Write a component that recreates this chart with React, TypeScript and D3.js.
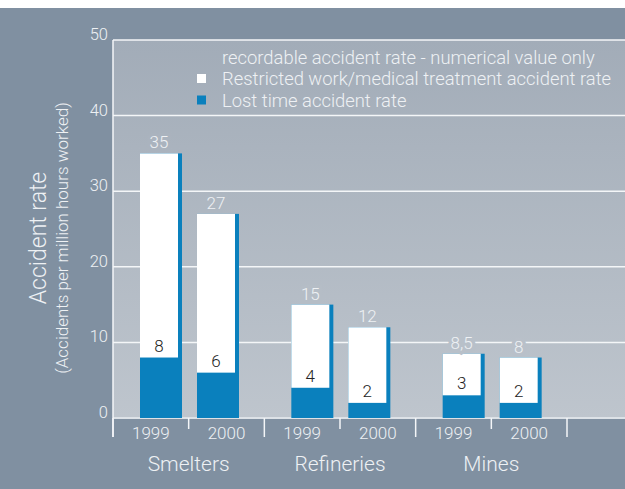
import * as d3 from "d3";
import { useEffect, useRef } from "react";

// chart data
const groups = ["Smelters", "Refineries", "Mines"];
const years = ["1999", "2000"];
const totalRate = [
  [35, 27],
  [15, 12],
  [8.5, 8],
];
const totalLabels = [
  ["35", "27"],
  ["15", "12"],
  ["8,5", "8"],
];
const lostTime = [
  [8, 6],
  [4, 2],
  [3, 2],
];
const yTicks = [0, 10, 20, 30, 40, 50];
const legendItems = [
  { label: "recordable accident rate - numerical value only", swatch: null },
  { label: "Restricted work/medical treatment accident rate", swatch: "#ffffff" },
  { label: "Lost time accident rate", swatch: "#0a80bd" },
];

const width = 625;
const height = 489;
const plotLeft = 113;
const plotTop = 40;
const plotBottom = 418;
const axisEnd = 567;
const blue = "#0a80bd";
const font = "Roboto, 'Liberation Sans', sans-serif";
const weight = 300;
const light = "#eef1f4";
const bgTop = "#a2acb8";
const bgBottom = "#bec5cd";

const App = () => {
  const ref = useRef<SVGSVGElement>(null);

  useEffect(() => {
    const svg = d3.select(ref.current);
    svg.selectAll("*").remove();

    const y = d3.scaleLinear().domain([0, 50]).range([plotBottom, plotTop]);
    const xGroup = d3.scaleBand().domain(groups).range([plotLeft, axisEnd]);
    const xHalf = d3.scaleBand().domain(years).range([0, xGroup.bandwidth()]);
    const xBar = d3
      .scaleBand()
      .domain(years)
      .range([27, 126])
      .paddingInner(0.263);
    // background colour at a given pixel height (for label knockouts)
    const bgAt = d3
      .scaleLinear<string>()
      .domain([plotTop, plotBottom])
      .range([bgTop, bgBottom])
      .interpolate(d3.interpolateRgb);

    const txt = (sel: any, size: number, fill = light) =>
      sel
        .attr("font-family", font)
        .attr("font-weight", weight)
        .attr("font-size", size)
        .attr("fill", fill);

    const defs = svg.append("defs");
    const grad = defs
      .append("linearGradient")
      .attr("id", "plotbg")
      .attr("x1", 0)
      .attr("y1", 0)
      .attr("x2", 0)
      .attr("y2", 1);
    grad.append("stop").attr("offset", "0%").attr("stop-color", bgTop);
    grad.append("stop").attr("offset", "100%").attr("stop-color", bgBottom);

    // background
    svg.append("rect").attr("width", width).attr("height", height).attr("fill", "#fff");
    svg.append("rect").attr("y", 8).attr("width", width).attr("height", height - 8).attr("fill", "#8090a1");
    svg
      .append("rect")
      .attr("x", plotLeft)
      .attr("y", plotTop)
      .attr("width", width - plotLeft)
      .attr("height", plotBottom - plotTop)
      .attr("fill", "url(#plotbg)");

    // grid + y labels
    svg
      .append("g")
      .selectAll("line")
      .data(yTicks)
      .join("line")
      .attr("x1", plotLeft)
      .attr("x2", width)
      .attr("y1", (d) => y(d))
      .attr("y2", (d) => y(d))
      .attr("stroke", (d) => (d === 0 ? "#dde2e7" : "#f4f6f8"))
      .attr("stroke-width", (d) => (d === 0 ? 2 : 1.5));

    txt(
      svg
        .append("g")
        .selectAll("text")
        .data(yTicks)
        .join("text")
        .attr("x", 108)
        .attr("y", (d) => y(d))
        .attr("text-anchor", "end"),
      16.5
    ).text((d) => d);

    // left axis line
    svg
      .append("line")
      .attr("x1", plotLeft)
      .attr("x2", plotLeft)
      .attr("y1", plotTop)
      .attr("y2", 437)
      .attr("stroke", "#f4f6f8")
      .attr("stroke-width", 1.5);

    // x ticks
    const majors = groups.map((g) => xGroup(g)!).concat([axisEnd]);
    svg
      .append("g")
      .selectAll("line")
      .data(majors)
      .join("line")
      .attr("x1", (d) => d)
      .attr("x2", (d) => d)
      .attr("y1", plotBottom)
      .attr("y2", 437)
      .attr("stroke", "#f4f6f8")
      .attr("stroke-width", 1.5);
    svg
      .append("g")
      .selectAll("line")
      .data(groups)
      .join("line")
      .attr("x1", (g) => xGroup(g)! + xHalf("2000")!)
      .attr("x2", (g) => xGroup(g)! + xHalf("2000")!)
      .attr("y1", plotBottom)
      .attr("y2", 429)
      .attr("stroke", "#f4f6f8")
      .attr("stroke-width", 1.5);

    // year + group labels
    groups.forEach((g) => {
      years.forEach((yr) => {
        txt(
          svg
            .append("text")
            .attr("x", xGroup(g)! + xHalf(yr)! + xHalf.bandwidth() / 2)
            .attr("y", 438.5)
            .attr("text-anchor", "middle"),
          17
        ).text(yr);
      });
      txt(
        svg
          .append("text")
          .attr("x", xGroup(g)! + xGroup.bandwidth() / 2)
          .attr("y", 471)
          .attr("text-anchor", "middle"),
        21
      ).text(g);
    });

    // bars
    const bars = svg.append("g");
    groups.forEach((g, gi) => {
      years.forEach((yr, yi) => {
        const x0 = xGroup(g)! + xBar(yr)!;
        const bw = xBar.bandwidth();
        const tot = totalRate[gi][yi];
        const lost = lostTime[gi][yi];
        bars
          .append("rect")
          .attr("x", x0)
          .attr("y", y(tot))
          .attr("width", bw)
          .attr("height", y(0) - y(tot))
          .attr("fill", blue);
        bars
          .append("rect")
          .attr("x", x0)
          .attr("y", y(tot))
          .attr("width", bw - 4)
          .attr("height", y(lost) - y(tot))
          .attr("fill", "#fff");
        txt(
          bars
            .append("text")
            .attr("x", x0 + (bw - 4) / 2)
            .attr("y", y(tot) - 5)
            .attr("text-anchor", "middle")
            .attr("stroke", bgAt(y(tot) - 11))
            .attr("stroke-width", 7)
            .attr("paint-order", "stroke"),
          17
        ).text(totalLabels[gi][yi]);
        txt(
          bars
            .append("text")
            .attr("x", x0 + (bw - 4) / 2)
            .attr("y", y(lost) - 6)
            .attr("text-anchor", "middle"),
          17,
          "#222"
        ).text(lost);
      });
    });

    // y titles
    txt(
      svg
        .append("text")
        .attr("transform", "translate(46,238) rotate(-90)")
        .attr("text-anchor", "middle"),
      23
    ).text("Accident rate");
    txt(
      svg
        .append("text")
        .attr("transform", "translate(68,238) rotate(-90)")
        .attr("text-anchor", "middle"),
      17
    ).text("(Accidents per million hours worked)");

    // legend
    const lg = svg.append("g");
    legendItems.forEach((item, i) => {
      const cy = 57 + i * 21.5;
      if (item.swatch) {
        lg.append("rect")
          .attr("x", 197)
          .attr("y", cy - 4.5)
          .attr("width", 9)
          .attr("height", 9)
          .attr("fill", item.swatch);
      }
      txt(lg.append("text").attr("x", 222).attr("y", cy + 6.5), 18.4).text(item.label);
    });
  }, []);

  return (
    <svg
      ref={ref}
      width={width}
      height={height}
      style={{ position: "absolute", left: 0, top: 0, display: "block" }}
    />
  );
};

export default App;
